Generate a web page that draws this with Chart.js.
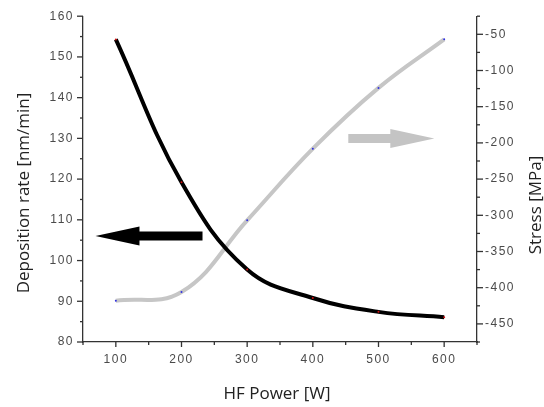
<!DOCTYPE html>
<html>
<head>
<meta charset="utf-8">
<script src="https://cdn.jsdelivr.net/npm/chart.js@4/dist/chart.umd.min.js"></script>
<style>
  html, body { margin: 0; padding: 0; background: #fff; }
  #wrap { width: 544px; height: 407px; }
</style>
</head>
<body>
<div id="wrap"><canvas id="chart" width="544" height="407"></canvas></div>
<script>
// Data
const powerW = [100, 200, 300, 400, 500, 600];
const depositionRate = [154.3, 119.2, 97.8, 90.8, 87.4, 86.1];
const stressMPa = [-418, -406, -307, -208, -124, -57];

// Axis ranges
const xRange = [50, 650];
const rateRange = [80, 160];
const stressRange = [-475, -25];

// Arrows (data coords: x, value on the axis they point to)
const rateArrow = { from: [232, 106], to: [69, 106], axis: 'y' };
const stressArrow = { from: [454, -194], to: [585, -194], axis: 'y1' };

const titleFont = '17px "Open Sans", "Noto Sans", sans-serif';
const tickFont = { family: '"Liberation Sans", Arial, sans-serif', size: 12 };

// Wider digit spacing like the original tick labels
const spacing = {
  id: 'spacing',
  beforeDraw(chart) { chart.ctx.letterSpacing = '1.5px'; },
  beforeLayout(chart) { chart.ctx.letterSpacing = '1.5px'; }
};

// Draws the custom tick marks, axis titles and arrows
const decorations = {
  id: 'decorations',
  afterDatasetsDraw(chart) {
    const ctx = chart.ctx;
    const { x, y, y1 } = chart.scales;
    const area = chart.chartArea;

    ctx.save();
    ctx.letterSpacing = '0px';
    ctx.strokeStyle = '#333';
    ctx.lineWidth = 1.3;
    // tick marks
    x.ticks.forEach(t => {
      const px = x.getPixelForValue(t.value);
      const len = t.value % 100 === 0 ? 5 : 3;
      ctx.beginPath();
      ctx.moveTo(px, area.bottom);
      ctx.lineTo(px, area.bottom + len);
      ctx.stroke();
    });
    y.ticks.forEach(t => {
      const py = y.getPixelForValue(t.value);
      const len = t.value % 10 === 0 ? 6 : 3;
      ctx.beginPath();
      ctx.moveTo(area.left, py);
      ctx.lineTo(area.left - len, py);
      ctx.stroke();
    });
    y1.ticks.forEach(t => {
      const py = y1.getPixelForValue(t.value);
      const len = t.value % 50 === 0 ? 6 : 3;
      ctx.beginPath();
      ctx.moveTo(area.right, py);
      ctx.lineTo(area.right + len, py);
      ctx.stroke();
    });

    // arrows
    drawArrow(ctx, chart, rateArrow, '#000');
    drawArrow(ctx, chart, stressArrow, '#c4c4c4');

    // axis titles
    ctx.fillStyle = '#222';
    ctx.font = titleFont;
    ctx.textAlign = 'center';
    ctx.textBaseline = 'middle';
    ctx.fillText('HF Power [W]', (area.left + area.right) / 2 - 3, 394);

    ctx.save();
    ctx.translate(24, 193);
    ctx.rotate(-Math.PI / 2);
    ctx.fillText('Deposition rate [nm/min]', 0, 0);
    ctx.restore();

    ctx.save();
    ctx.translate(536, 205);
    ctx.rotate(-Math.PI / 2);
    ctx.fillText('Stress [MPa]', 0, 0);
    ctx.restore();

    ctx.restore();
  }
};

function drawArrow(ctx, chart, arrow, color) {
  const xs = chart.scales.x;
  const ys = chart.scales[arrow.axis];
  const x0 = xs.getPixelForValue(arrow.from[0]);
  const x1 = xs.getPixelForValue(arrow.to[0]);
  const py = ys.getPixelForValue(arrow.from[1]);
  const dir = Math.sign(x1 - x0);
  const headLen = 44;
  const shaftHalf = 4.5;
  const headHalf = 9.5;
  const hx = x1 - dir * headLen;
  ctx.fillStyle = color;
  ctx.beginPath();
  ctx.moveTo(x0, py - shaftHalf);
  ctx.lineTo(hx, py - shaftHalf);
  ctx.lineTo(hx, py - headHalf);
  ctx.lineTo(x1, py);
  ctx.lineTo(hx, py + headHalf);
  ctx.lineTo(hx, py + shaftHalf);
  ctx.lineTo(x0, py + shaftHalf);
  ctx.closePath();
  ctx.fill();
}

const ctx = document.getElementById('chart').getContext('2d');
const chart = new Chart(ctx, {
  type: 'line',
  data: {
    datasets: [{
      label: 'Deposition rate',
      data: powerW.map((p, i) => ({ x: p, y: depositionRate[i] })),
      borderColor: '#000',
      borderWidth: 4,
      pointRadius: 1,
      pointBackgroundColor: '#d01010',
      pointBorderWidth: 0,
      tension: 0.4,
      yAxisID: 'y'
    }, {
      label: 'Stress',
      data: powerW.map((p, i) => ({ x: p, y: stressMPa[i] })),
      borderColor: '#c6c6c6',
      borderWidth: 4,
      pointRadius: 1,
      pointBackgroundColor: '#3030e0',
      pointBorderWidth: 0,
      tension: 0.4,
      yAxisID: 'y1'
    }]
  },
  options: {
    responsive: false,
    animation: false,
    layout: { padding: { top: 16, left: 0, right: 0, bottom: 0 } },
    plugins: { legend: { display: false }, tooltip: { enabled: false } },
    scales: {
      x: {
        type: 'linear',
        min: xRange[0],
        max: xRange[1],
        ticks: {
          stepSize: 50,
          padding: 10,
          color: '#4a4a4a',
          font: tickFont,
          maxRotation: 0,
          autoSkip: false,
          callback: v => (v % 100 === 0 ? v : '')
        },
        grid: { display: false, drawTicks: false },
        border: { display: true, color: '#333', width: 1.3 },
        afterFit: s => { s.height = 65; }
      },
      y: {
        position: 'left',
        min: rateRange[0],
        max: rateRange[1],
        ticks: {
          stepSize: 5,
          padding: 9,
          color: '#4a4a4a',
          font: tickFont,
          autoSkip: false,
          callback: v => (v % 10 === 0 ? v : '')
        },
        grid: { display: false, drawTicks: false },
        border: { display: true, color: '#333', width: 1.3 },
        afterFit: s => { s.width = 83; }
      },
      y1: {
        position: 'right',
        min: stressRange[0],
        max: stressRange[1],
        ticks: {
          stepSize: 25,
          padding: 8,
          color: '#4a4a4a',
          font: tickFont,
          autoSkip: false,
          callback: v => (v % 50 === 0 ? v : '')
        },
        grid: { display: false, drawTicks: false },
        border: { display: true, color: '#333', width: 1.3 },
        afterFit: s => { s.width = 67; }
      }
    }
  },
  plugins: [spacing, decorations]
});
</script>
</body>
</html>
